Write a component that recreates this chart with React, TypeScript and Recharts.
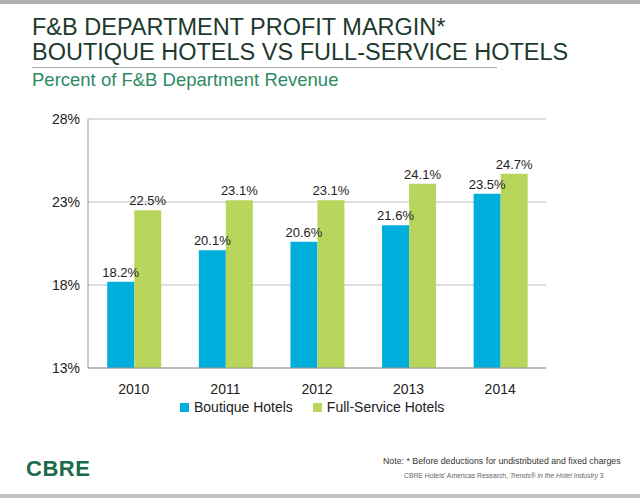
import React from 'react';
import { BarChart, Bar, XAxis, YAxis, CartesianGrid, LabelList } from 'recharts';

const years = ['2010', '2011', '2012', '2013', '2014'];
const boutique = [18.2, 20.1, 20.6, 21.6, 23.5];
const fullService = [22.5, 23.1, 23.1, 24.1, 24.7];
const yTicks = [13, 18, 23, 28];

const data = years.map((year, i) => ({ year, boutique: boutique[i], fullService: fullService[i] }));

const FONT = 'Arial, "Liberation Sans", sans-serif';
const BLUE = '#00aedb';
const GREEN = '#b8d65c';

export default function App() {
  return (
    <div style={{ position: 'absolute', left: 0, top: 0, width: 640, height: 498, background: '#fff', fontFamily: FONT, overflow: 'hidden' }}>
      <div style={{ position: 'absolute', left: 0, top: 0, width: 640, height: 4, background: '#b0b0b0' }} />
      <div style={{ position: 'absolute', left: 32, top: 15, fontSize: 23.5, lineHeight: '25px', color: '#1d3a2c' }}>
        F&amp;B DEPARTMENT PROFIT MARGIN*<br />BOUTIQUE HOTELS VS FULL-SERVICE HOTELS
      </div>
      <div style={{ position: 'absolute', left: 32, top: 67, width: 465, height: 1, background: '#9fb5aa' }} />
      <div style={{ position: 'absolute', left: 32, top: 69, fontSize: 18.5, color: '#2e8b63' }}>Percent of F&amp;B Department Revenue</div>

      <div style={{ position: 'absolute', left: 0, top: 0 }}>
        <BarChart width={640} height={404} data={data} margin={{ top: 119, right: 94, left: 28, bottom: 0 }}
          barCategoryGap="21%" barGap={0}>
          <CartesianGrid vertical={false} stroke="#bdbdbd" />
          <XAxis dataKey="year" tick={{ fill: '#222', fontSize: 14, fontFamily: FONT }} tickLine={false}
            axisLine={{ stroke: '#999' }} height={36} tickMargin={10} />
          <YAxis domain={[13, 28]} ticks={yTicks} width={60} tickFormatter={(v) => `${v}%`}
            tick={{ fill: '#222', fontSize: 14, fontFamily: FONT }} axisLine={{ stroke: '#999' }} tickLine={false} />
          <Bar dataKey="boutique" name="Boutique Hotels" fill={BLUE} isAnimationActive={false}>
            <LabelList dataKey="boutique" position="top" formatter={(v: number) => `${v}%`} style={{ fill: '#222', fontSize: 13, fontFamily: FONT }} />
          </Bar>
          <Bar dataKey="fullService" name="Full-Service Hotels" fill={GREEN} isAnimationActive={false}>
            <LabelList dataKey="fullService" position="top" formatter={(v: number) => `${v}%`} style={{ fill: '#222', fontSize: 13, fontFamily: FONT }} />
          </Bar>
        </BarChart>
      </div>

      <div style={{ position: 'absolute', left: 180, top: 399, fontSize: 14, color: '#222', display: 'flex', alignItems: 'center' }}>
        <span style={{ width: 9, height: 9, background: BLUE, marginRight: 5, display: 'inline-block' }} />
        <span style={{ marginRight: 20 }}>Boutique Hotels</span>
        <span style={{ width: 9, height: 9, background: GREEN, marginRight: 5, display: 'inline-block' }} />
        <span>Full-Service Hotels</span>
      </div>

      <div style={{ position: 'absolute', left: 26, top: 456, fontSize: 22, fontWeight: 'bold', color: '#1a6b4a', letterSpacing: 0.5 }}>CBRE</div>
      <div style={{ position: 'absolute', left: 383, top: 456, fontSize: 8.8, color: '#333' }}>Note: * Before deductions for undistributed and fixed charges</div>
      <div style={{ position: 'absolute', left: 404, top: 472, fontSize: 6.8, color: '#666' }}>
        CBRE Hotels' Americas Research, <i>Trends® in the Hotel Industry</i> 3
      </div>
      <div style={{ position: 'absolute', left: 0, top: 494, width: 640, height: 4, background: '#c0c0c0' }} />
    </div>
  );
}
